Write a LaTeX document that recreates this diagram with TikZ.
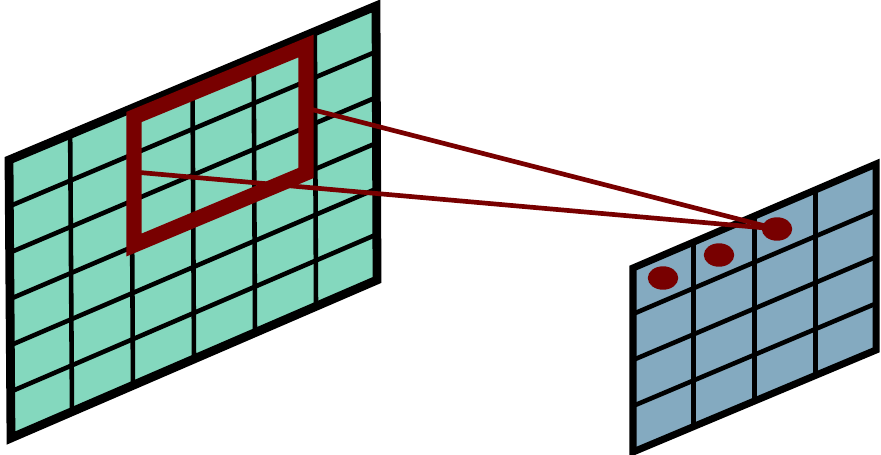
\documentclass[tikz,border=0pt]{standalone}
\usepackage{xcolor}
\usetikzlibrary{calc}

\definecolor{mapgreen}{RGB}{132,216,190}
\definecolor{mapblue}{RGB}{132,170,192}
\definecolor{winred}{RGB}{120,0,0}

\begin{document}
\begin{tikzpicture}[x=0.03cm, y=-0.03cm]
    \useasboundingbox (0,0) rectangle (881,454);

    % Corners of the input map
    \coordinate (A1) at (9,160);
    \coordinate (A2) at (376,6);
    \coordinate (A3) at (377,280);
    \coordinate (A4) at (11,438);

    % Input map (6x6 cells)
    \fill[mapgreen] (A1) -- (A2) -- (A3) -- (A4) -- cycle;
    \foreach \t in {1,...,5} {
        \draw[line width=3.9pt] ($(A1)!\t/6!(A2)$) -- ($(A4)!\t/6!(A3)$);
        \draw[line width=3.9pt] ($(A1)!\t/6!(A4)$) -- ($(A2)!\t/6!(A3)$);
    }
    \draw[line width=7.5pt] (A1) -- (A2) -- (A3) -- (A4) -- cycle;

    % Corners of the output map
    \coordinate (B1) at (633,268);
    \coordinate (B2) at (876,164);
    \coordinate (B3) at (876,350);
    \coordinate (B4) at (633,452);

    % Output map (4x4 cells)
    \fill[mapblue] (B1) -- (B2) -- (B3) -- (B4) -- cycle;
    \foreach \t in {1,...,3} {
        \draw[line width=3.9pt] ($(B1)!\t/4!(B2)$) -- ($(B4)!\t/4!(B3)$);
        \draw[line width=3.9pt] ($(B1)!\t/4!(B4)$) -- ($(B2)!\t/4!(B3)$);
    }
    \draw[line width=6pt] (B1) -- (B2) -- (B3) -- (B4) -- cycle;

    % Window on the input map
    \coordinate (W1) at (134,117);
    \coordinate (W2) at (306,46);
    \coordinate (W3) at (306,173);
    \coordinate (W4) at (134,245);
    \draw[line width=13pt, winred] (W1) -- (W2) -- (W3) -- (W4) -- cycle;

    % Output units
    \coordinate (D1) at (663,278);
    \coordinate (D2) at (719,255);
    \coordinate (D3) at (777,229);

    % Projection of the window onto one unit
    \coordinate (P1) at (306,108);
    \coordinate (P2) at (134,172);
    \draw[line width=4pt, winred] (P1) -- (D3);
    \draw[line width=4pt, winred] (P2) -- (D3);

    \fill[winred] (D1) ellipse (13pt and 10pt);
    \fill[winred] (D2) ellipse (13pt and 10pt);
    \fill[winred] (D3) ellipse (13pt and 10pt);
\end{tikzpicture}
\end{document}
